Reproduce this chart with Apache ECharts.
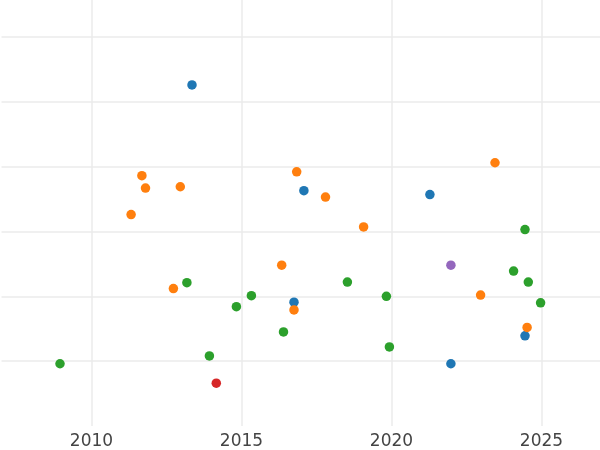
<!DOCTYPE html>
<html>
<head>
<meta charset="utf-8">
<script src="https://cdn.jsdelivr.net/npm/echarts@6/dist/echarts.min.js"></script>
<style>html,body{margin:0;padding:0;background:#fff}#c{width:600px;height:450px}</style>
</head>
<body>
<div id="c"></div>
<script>
// Data: [year, value]
const blueYears   = [2013.35, 2017.08, 2021.28, 2016.75, 2021.98, 2024.45];
const blueValues  = [5.26, 3.63, 3.57, 1.91, 0.96, 1.39];
const orangeYears  = [2011.68, 2011.80, 2012.96, 2011.32, 2016.84, 2017.80, 2019.07, 2023.45, 2016.34, 2012.73, 2016.75, 2022.97, 2024.52];
const orangeValues = [3.86, 3.67, 3.69, 3.26, 3.92, 3.53, 3.07, 4.06, 2.48, 2.12, 1.79, 2.02, 1.52];
const greenYears  = [2008.95, 2013.18, 2014.83, 2015.33, 2013.93, 2016.40, 2018.53, 2019.83, 2019.93, 2024.45, 2024.07, 2024.56, 2024.97];
const greenValues = [0.96, 2.21, 1.84, 2.01, 1.08, 1.45, 2.22, 2.00, 1.22, 3.03, 2.39, 2.22, 1.90];
const redYears = [2014.16];
const redValues = [0.66];
const purpleYears = [2021.98];
const purpleValues = [2.48];
const xTicks = [2010, 2015, 2020, 2025];

const seriesDefs = [
  {name: 'A', color: '#1f77b4', xs: blueYears, ys: blueValues},
  {name: 'B', color: '#ff7f0e', xs: orangeYears, ys: orangeValues},
  {name: 'C', color: '#2ca02c', xs: greenYears, ys: greenValues},
  {name: 'D', color: '#d62728', xs: redYears, ys: redValues},
  {name: 'E', color: '#9467bd', xs: purpleYears, ys: purpleValues}
];

const chart = echarts.init(document.getElementById('c'), null, {renderer: 'canvas'});
chart.setOption({
  animation: false,
  backgroundColor: '#ffffff',
  grid: {left: 1.5, right: 0, top: 0, bottom: 23, containLabel: false},
  xAxis: {
    type: 'value', min: 2007, max: 2026.95, interval: 1,
    axisLine: {show: false}, axisTick: {show: false},
    axisLabel: {
      color: '#444444', fontSize: 17, fontFamily: 'DejaVu Sans', margin: 7,
      showMinLabel: false, showMaxLabel: false,
      formatter: v => xTicks.includes(Math.round(v * 100) / 100) ? String(Math.round(v)) : ''
    },
    splitLine: {show: true, lineStyle: {
      color: ['rgba(0,0,0,0)', 'rgba(0,0,0,0)', 'rgba(0,0,0,0)', '#ebebeb', 'rgba(0,0,0,0)'],
      width: 1.5}}
  },
  yAxis: {
    type: 'value', min: 0, max: 6.57, interval: 1,
    axisLine: {show: false}, axisTick: {show: false}, axisLabel: {show: false},
    splitLine: {show: true, showMinLine: false, showMaxLine: false, lineStyle: {color: '#ebebeb', width: 1.5}}
  },
  series: seriesDefs.map(s => ({
    type: 'scatter', name: s.name,
    symbol: 'circle', symbolSize: 9.5,
    itemStyle: {color: s.color, opacity: 1},
    data: s.xs.map((x, i) => [x, s.ys[i]])
  }))
});
</script>
</body>
</html>
